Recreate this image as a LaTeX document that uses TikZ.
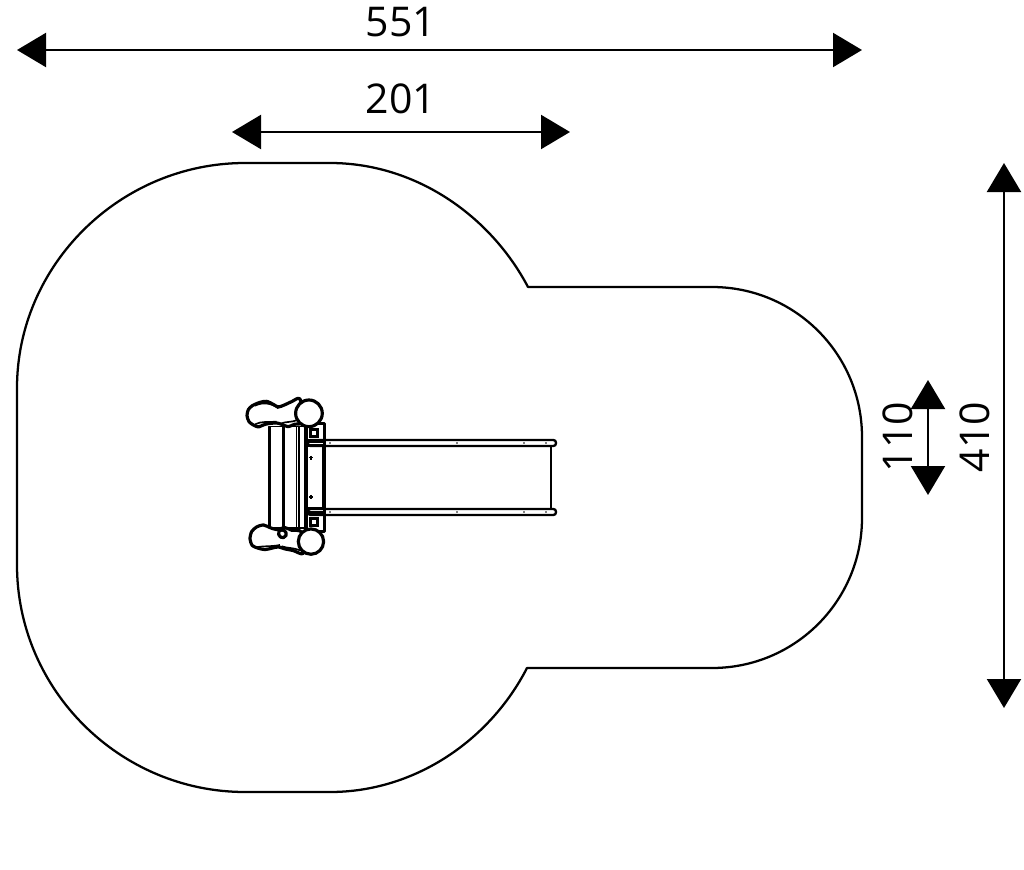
\documentclass[tikz,border=0pt]{standalone}
\usepackage{fontspec}
\setmainfont{Open Sans}
\usetikzlibrary{arrows.meta}
\tikzset{
  dim/.style={line width=0.65mm,{Triangle[length=8.7mm,width=10.2mm]}-{Triangle[length=8.7mm,width=10.2mm]}},
  dimtext/.style={inner sep=0pt,font=\fontsize{35}{40}\selectfont},
  outl/.style={line width=0.68mm,line join=round},
  part/.style={line width=0.5mm,line join=round},
  thick part/.style={line width=0.95mm,line join=round},
  rail/.style={line width=0.7mm,fill=white,rounded corners=0.8mm}
}
\begin{document}
\begin{tikzpicture}[x=0.03cm,y=-0.03cm]
\useasboundingbox (0,0) rectangle (1024,870);
% safety surface outline
\draw[outl]
 (245,163) -- (330,163)
 .. controls (415,163) and (490,215) .. (528,287)
 -- (712,287)
 .. controls (795,287) and (862,354) .. (862,437)
 -- (862,518)
 .. controls (862,601) and (795,668) .. (712,668)
 -- (527,668)
 .. controls (490,740) and (415,792) .. (330,792)
 -- (245,792)
 .. controls (120,792) and (17,690) .. (17,565)
 -- (17,388)
 .. controls (17,265) and (120,163) .. (245,163) -- cycle;
% dimension arrows
\coordinate (a1) at (17,50); \coordinate (a2) at (862,50);
\coordinate (b1) at (232,132); \coordinate (b2) at (570,132);
\coordinate (c1) at (1004,163); \coordinate (c2) at (1004,708);
\coordinate (d1) at (928,380); \coordinate (d2) at (928,495);
\draw[dim] (a1) -- (a2);
\draw[dim] (b1) -- (b2);
\draw[dim] (c1) -- (c2);
\draw[dim] (d1) -- (d2);
\node[dimtext] (t551) at (401,22) {551};
\node[dimtext] (t201) at (401,99) {201};
\node[dimtext,rotate=90] (t410) at (975,437) {410};
\node[dimtext,rotate=90] (t110) at (898,437) {110};
% slide
\draw[part] (323,446) -- (323,509);
\draw[part] (551,446) -- (551,509);
\draw[rail] (308,440) rectangle (556,446);
\draw[rail] (308,509) rectangle (556,515);
\foreach \x in {330,457,524,546}{
  \fill (\x,443) circle (0.8);
  \fill (\x,512) circle (0.8);
}
% platform, in tenths of a px-thirds grid
\begin{scope}[shift={(235,385)},x=0.01cm,y=-0.01cm]
 \draw[thick part] (215,115) -- (268,115) -- (268,440) -- (215,440) -- cycle;
 \draw[part,fill=white] (103,125) rectangle (215,430);
 \draw[thick part] (103,125) -- (103,430);
 \fill (140,125) rectangle (150,430);
 \draw[part] (185,125) -- (185,430);
 \draw[part] (192,125) -- (192,430);
 \fill (208,125) rectangle (218,430);
 % bolts
 \fill (222,130) rectangle (252,160);
 \fill[white] (232,138) rectangle (242,150);
 \fill (222,396) rectangle (252,426);
 \fill[white] (232,404) rectangle (242,416);
 \draw[thick part] (218,168) -- (268,168) (218,182) -- (268,182);
 \draw[thick part] (218,370) -- (268,370) (218,384) -- (268,384);
 % small marks
 \draw[part] (222,218) -- (234,218) (228,212) -- (228,224);
 \draw[part] (222,336) -- (234,336) (228,330) -- (228,342);
 % top log
 \draw[thick part,fill=white] plot[smooth cycle,tension=0.45] coordinates {
   (36,92) (40,74) (52,62) (75,52) (95,49) (115,58) (130,66) (148,60) (170,50) (195,42) (205,110)
   (178,118) (160,125) (140,118) (125,114) (100,116) (85,120) (70,126) (55,120) (42,110)};
 \draw[part] (60,62) .. controls (85,50) and (110,55) .. (130,70);
 \draw[part] (60,118) .. controls (80,108) and (100,112) .. (125,110);
 \draw[part] (140,115) .. controls (150,110) and (170,112) .. (185,106);
 \draw[thick part,fill=white] (222,85) circle (40);
 % bottom log
 \draw[thick part,fill=white] plot[smooth cycle,tension=0.45] coordinates {
   (45,462) (50,440) (65,426) (85,420) (105,428) (125,434) (150,428) (170,436) (200,442) (205,505)
   (175,497) (150,492) (130,486) (110,490) (90,494) (70,490) (52,482)};
 \draw[thick part] (132,438) .. controls (125,455) and (145,466) .. (153,452) .. controls (157,440) and (145,430) .. (132,438);
 \draw[part] (60,488) .. controls (85,482) and (110,486) .. (135,480);
 \draw[part] (140,484) .. controls (155,490) and (175,488) .. (195,496);
 \draw[thick part,fill=white] (228,470) circle (38);
\end{scope}
\end{tikzpicture}
\end{document}
